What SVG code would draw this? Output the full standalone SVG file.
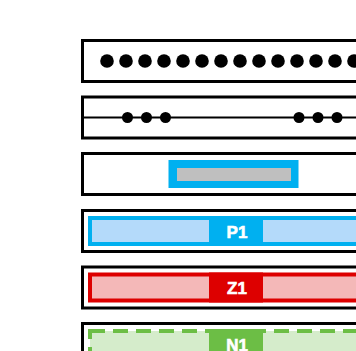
<svg xmlns="http://www.w3.org/2000/svg" width="356" height="351" viewBox="0 0 356 351">
<style>
.box{fill:#fff;stroke:#000;stroke-width:3}
.lbl{font-family:"Liberation Sans",Arial,sans-serif;font-weight:bold;font-size:17px;fill:#fff;stroke:#fff;stroke-width:0.6;text-anchor:middle}
</style>
<rect width="356" height="351" fill="#fff"/>
<g id="row1">
<rect class="box" x="82.5" y="40.5" width="300" height="41"/>
<g fill="#000">
<circle cx="107" cy="61" r="6.8"/><circle cx="126" cy="61" r="6.8"/><circle cx="145" cy="61" r="6.8"/><circle cx="164" cy="61" r="6.8"/><circle cx="183" cy="61" r="6.8"/><circle cx="202" cy="61" r="6.8"/><circle cx="221" cy="61" r="6.8"/><circle cx="240" cy="61" r="6.8"/><circle cx="259" cy="61" r="6.8"/><circle cx="278" cy="61" r="6.8"/><circle cx="297" cy="61" r="6.8"/><circle cx="316" cy="61" r="6.8"/><circle cx="335" cy="61" r="6.8"/><circle cx="354" cy="61" r="6.8"/>
</g>
</g>
<g id="row2">
<rect class="box" x="82.5" y="97" width="300" height="41"/>
<line x1="82" y1="117.5" x2="356" y2="117.5" stroke="#000" stroke-width="2"/>
<g fill="#000">
<circle cx="127.5" cy="117.5" r="5.5"/><circle cx="146.5" cy="117.5" r="5.5"/><circle cx="165.5" cy="117.5" r="5.5"/>
<circle cx="299" cy="117.5" r="5.5"/><circle cx="318" cy="117.5" r="5.5"/><circle cx="337" cy="117.5" r="5.5"/>
</g>
</g>
<g id="row3">
<rect class="box" x="82.5" y="153.5" width="300" height="41"/>
<rect x="168.5" y="160" width="130" height="28" fill="#00B0F0"/>
<rect x="177" y="168" width="114" height="13" fill="#BFBFBF"/>
</g>
<g id="P1">
<rect class="box" x="82.5" y="210.5" width="300" height="41"/>
<rect x="90" y="218" width="300" height="26" fill="#B4DAFA" stroke="#00B0F0" stroke-width="4"/>
<rect x="209" y="216" width="54" height="30" fill="#00B0F0"/>
<text class="lbl" x="237" y="237.5">P1</text>
</g>
<g id="Z1">
<rect class="box" x="82.5" y="267" width="300" height="41"/>
<rect x="90" y="274.5" width="300" height="26" fill="#F4B8B8" stroke="#DD0000" stroke-width="4"/>
<rect x="209" y="272.5" width="54" height="30" fill="#DD0000"/>
<text class="lbl" x="237" y="294">Z1</text>
</g>
<g id="N1">
<rect class="box" x="82.5" y="323.5" width="300" height="41"/>
<rect x="90" y="331" width="300" height="26" fill="#D5ECCB" stroke="#6CBE45" stroke-width="4" stroke-dasharray="15 8"/>
<rect x="209" y="329" width="54" height="30" fill="#6CBE45"/>
<text class="lbl" x="237" y="350.5">N1</text>
</g>
<g id="connectors"/>
</svg>
